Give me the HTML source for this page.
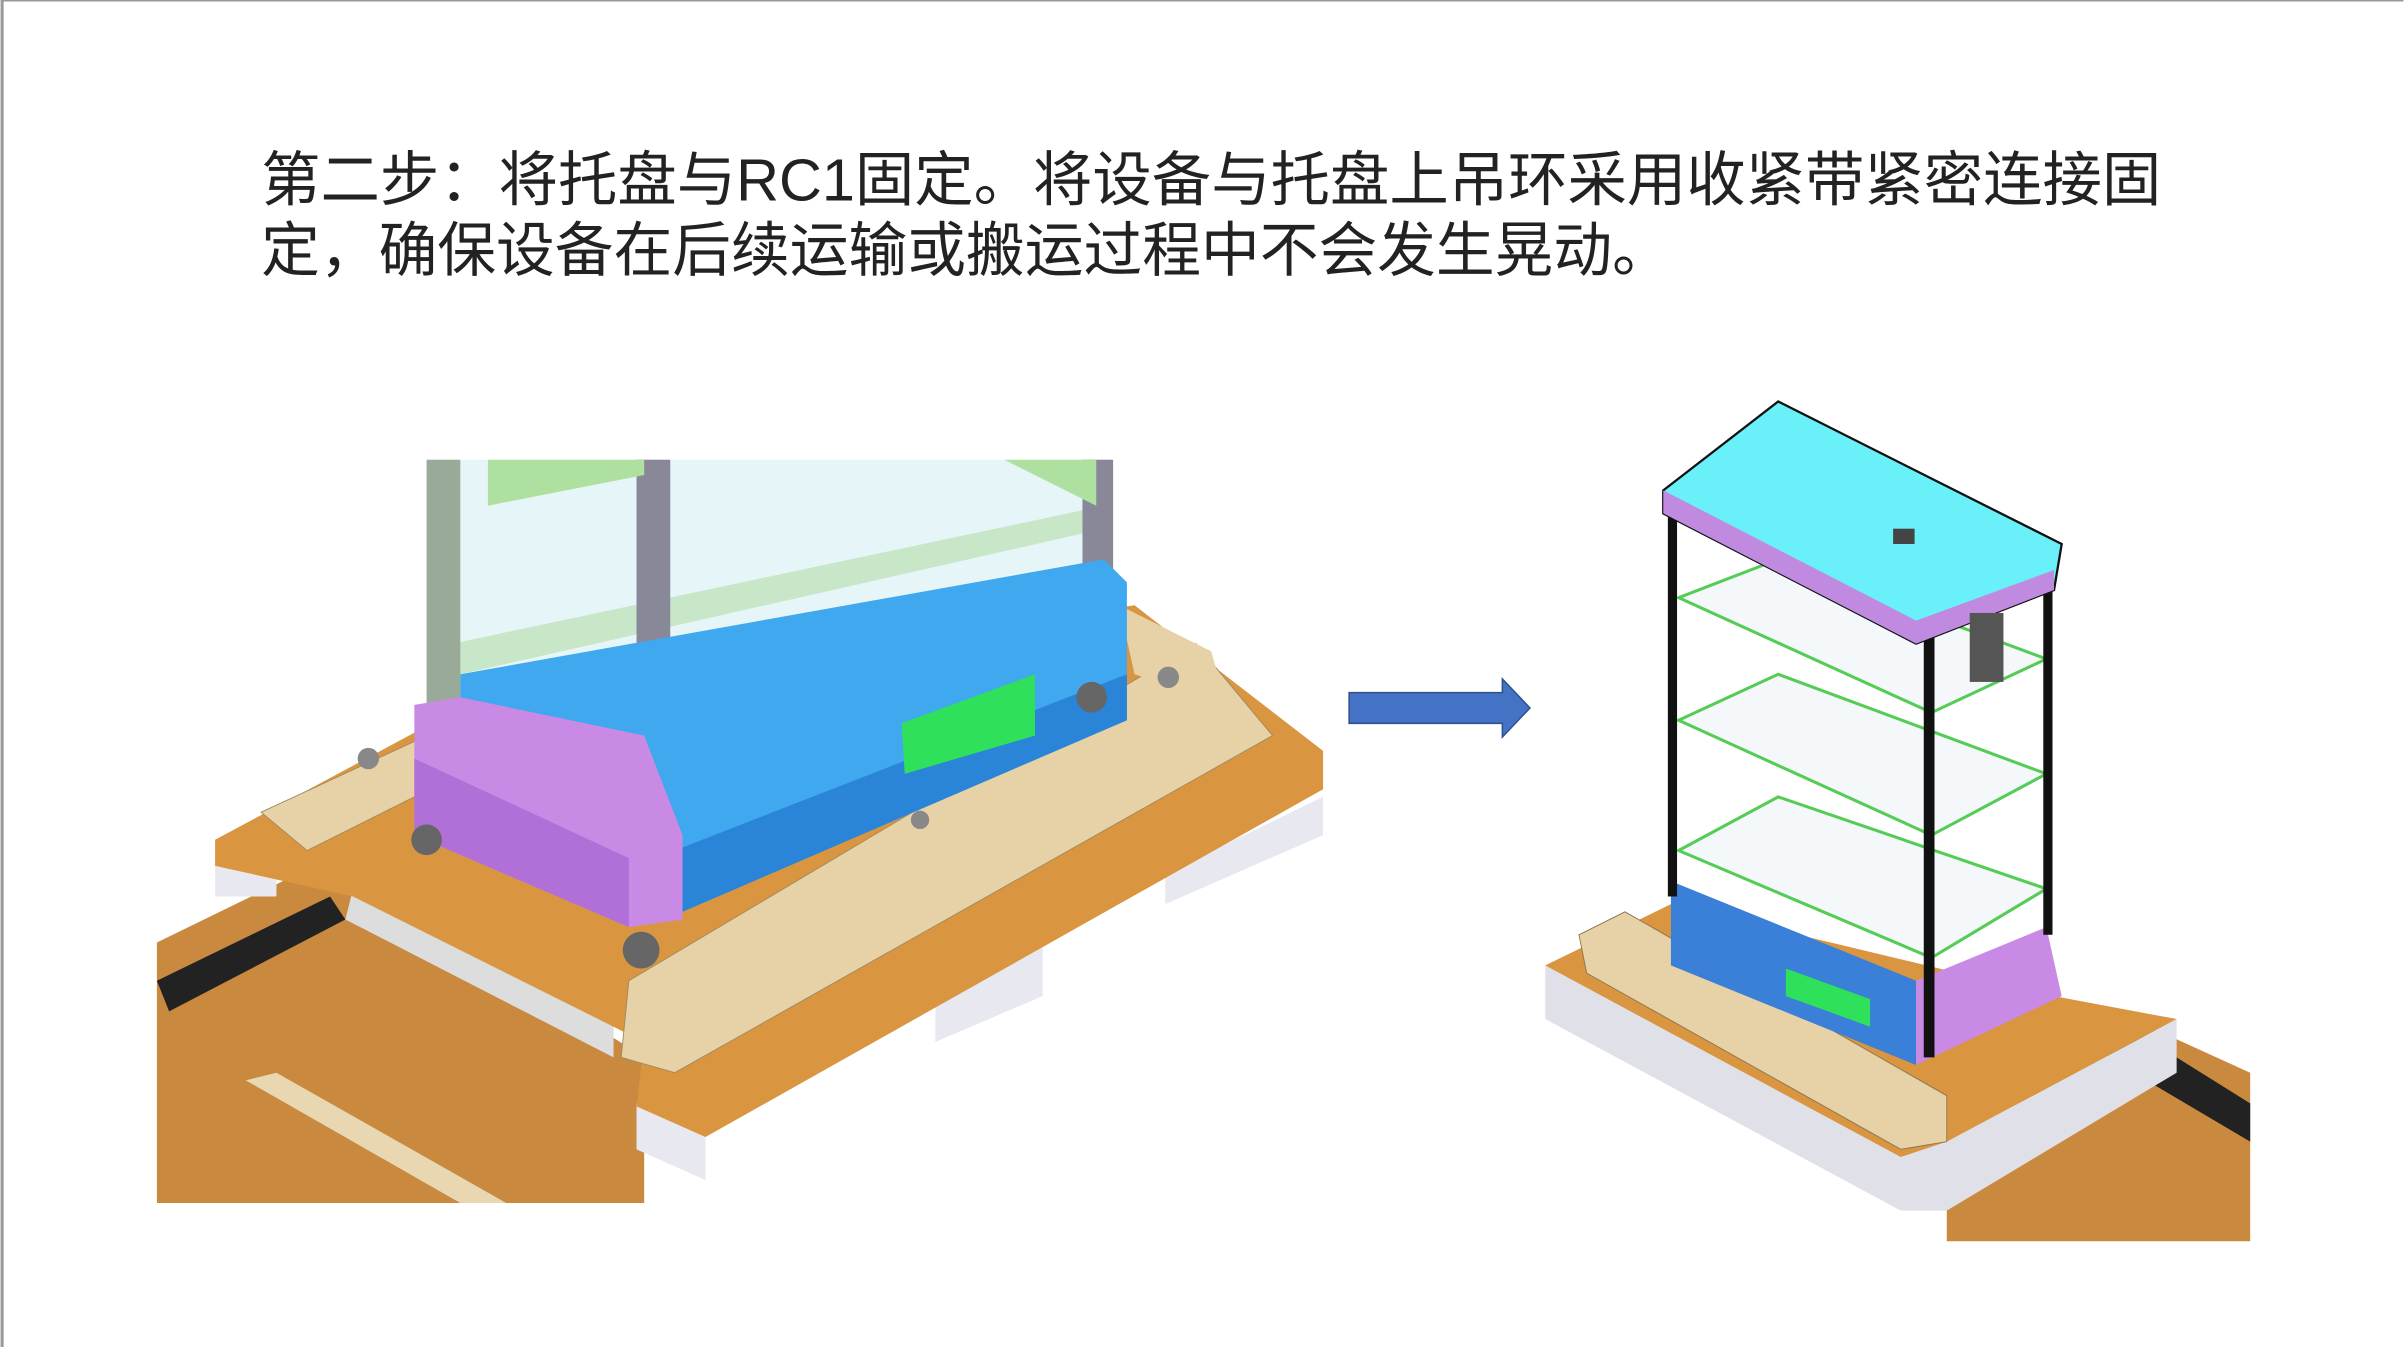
<!DOCTYPE html>
<html><head><meta charset="utf-8"><style>
html,body{margin:0;padding:0;background:#fff;}
svg{display:block;}
</style></head><body>
<svg width="2404" height="1347" viewBox="0 0 1568 879" xmlns="http://www.w3.org/2000/svg">
<rect x="0" y="0" width="1568" height="879" fill="#fff"/>
<line x1="0" y1="0.5" x2="1568" y2="0.5" stroke="#999" stroke-width="1"/>
<line x1="1" y1="0" x2="1" y2="879" stroke="#999" stroke-width="2"/>
<g font-family="'Liberation Sans','Noto Sans CJK SC',sans-serif" font-size="39" fill="#222">
<text x="170" y="131" textLength="1240" lengthAdjust="spacingAndGlyphs">第二步：将托盘与RC1固定。将设备与托盘上吊环采用收紧带紧密连接固</text>
<text x="170" y="177" textLength="920" lengthAdjust="spacingAndGlyphs">定，确保设备在后续运输或搬运过程中不会发生晃动。</text>
</g>
<!-- LEFT IMAGE -->
<g>
<!-- ramp -->
<polygon points="102,615 215,560 420,690 420,785 102,785" fill="#c98a40"/>
<polygon points="102,640 215,585 225,600 110,660" fill="#222"/>
<polygon points="230,580 400,665 400,690 225,600" fill="#ddd"/>
<polygon points="180,700 330,785 300,785 160,705" fill="#e8d7b0"/>
<!-- pallet white blocks -->
<polygon points="415,720 460,740 460,770 415,750" fill="#e8e8f0"/>
<polygon points="610,640 680,610 680,650 610,680" fill="#e8e8f0"/>
<polygon points="760,570 863,520 863,545 760,590" fill="#e8e8f0"/>
<polygon points="140,560 180,545 180,585 140,585" fill="#e8e8f0"/>
<!-- pallet top -->
<polygon points="140,548 300,462 740,395 863,490 863,515 460,742 415,722 420,680 230,585 140,565" fill="#d99540"/>
<!-- beige rails -->
<polygon points="410,640 780,420 830,480 440,700 405,690" fill="#e6d2a6" stroke="#a08a60" stroke-width="0.6"/>
<polygon points="170,530 300,470 330,490 200,555" fill="#e6d2a6" stroke="#a08a60" stroke-width="0.6"/>
<polygon points="730,395 790,425 800,460 740,440" fill="#e6d2a6"/>
<!-- shelving plane -->
<polygon points="290,300 725,300 720,380 300,470" fill="#e6f6f8"/>
<polygon points="295,420 720,330 720,345 300,440" fill="#c8e6c8"/>
<rect x="278" y="300" width="22" height="170" fill="#9a9"/>
<rect x="415" y="300" width="22" height="250" fill="#889"/>
<rect x="706" y="300" width="20" height="80" fill="#889"/>
<polygon points="318,300 420,300 420,310 318,330" fill="#aee0a0"/>
<polygon points="655,300 715,300 715,330" fill="#aee0a0"/>
<!-- blue box -->
<polygon points="300,440 720,365 735,380 735,470 445,595 300,540" fill="#3fa8ee"/>
<polygon points="440,555 735,440 735,470 445,595" fill="#2a84d8"/>
<polygon points="588,472 675,440 675,480 590,505" fill="#2ee05a"/>
<!-- purple end -->
<polygon points="270,460 300,455 420,480 445,545 445,600 410,605 270,545" fill="#c98ae6"/>
<polygon points="270,495 410,560 410,605 270,545" fill="#b070d8"/>
<!-- wheels -->
<circle cx="278" cy="548" r="10" fill="#666"/>
<circle cx="418" cy="620" r="12" fill="#666"/>
<circle cx="712" cy="455" r="10" fill="#666"/>
<circle cx="240" cy="495" r="7" fill="#888"/>
<circle cx="762" cy="442" r="7" fill="#888"/>
<circle cx="600" cy="535" r="6" fill="#888"/>
</g>
<!-- ARROW -->
<polygon points="880,452 980,452 980,443 998,462 980,481 980,472 880,472" fill="#4472c4" stroke="#2f528f" stroke-width="1"/>
<!-- RIGHT IMAGE -->
<g>
<!-- ramp -->
<polygon points="1270,700 1380,660 1468,700 1468,810 1270,810" fill="#c98a40"/>
<polygon points="1380,665 1468,720 1468,745 1375,690" fill="#222"/>
<polygon points="1275,740 1380,690 1390,700 1285,752" fill="#ddd"/>
<!-- pallet -->
<polygon points="1008,630 1008,665 1240,790 1270,790 1420,700 1420,665 1270,745" fill="#e0e0e8"/>
<polygon points="1008,630 1090,590 1340,650 1420,665 1270,745 1240,755" fill="#d99540"/>
<polygon points="1030,610 1060,595 1270,715 1270,745 1240,750 1035,635" fill="#e6d2a6" stroke="#8a7550" stroke-width="0.6"/>
<!-- blue base -->
<polygon points="1090,575 1250,640 1250,695 1090,630" fill="#3a7fd8"/>
<polygon points="1250,640 1335,605 1345,650 1250,695" fill="#c98ae6"/>
<polygon points="1165,632 1220,652 1220,670 1165,650" fill="#2ee05a"/>
<!-- shelves -->
<polygon points="1095,555 1160,520 1335,580 1260,625" fill="#f4f8fa" stroke="#5c5" stroke-width="2"/>
<polygon points="1095,470 1160,440 1335,505 1260,545" fill="#f4f8fa" stroke="#5c5" stroke-width="2"/>
<polygon points="1095,390 1160,365 1335,430 1260,465" fill="#f4f8fa" stroke="#5c5" stroke-width="2"/>
<!-- posts -->
<rect x="1088" y="320" width="6" height="265" fill="#111"/>
<rect x="1255" y="410" width="7" height="280" fill="#111"/>
<rect x="1333" y="375" width="6" height="235" fill="#111"/>
<!-- top -->
<polygon points="1085,320 1160,262 1345,355 1340,385 1250,420 1085,335" fill="#6af0f8" stroke="#111" stroke-width="1.5"/>
<polygon points="1085,320 1250,405 1340,372 1340,385 1250,420 1085,335" fill="#c08ae0"/>
<rect x="1285" y="400" width="22" height="45" fill="#555"/>
<rect x="1235" y="345" width="14" height="10" fill="#444"/>
</g>
</svg>
</body></html>
